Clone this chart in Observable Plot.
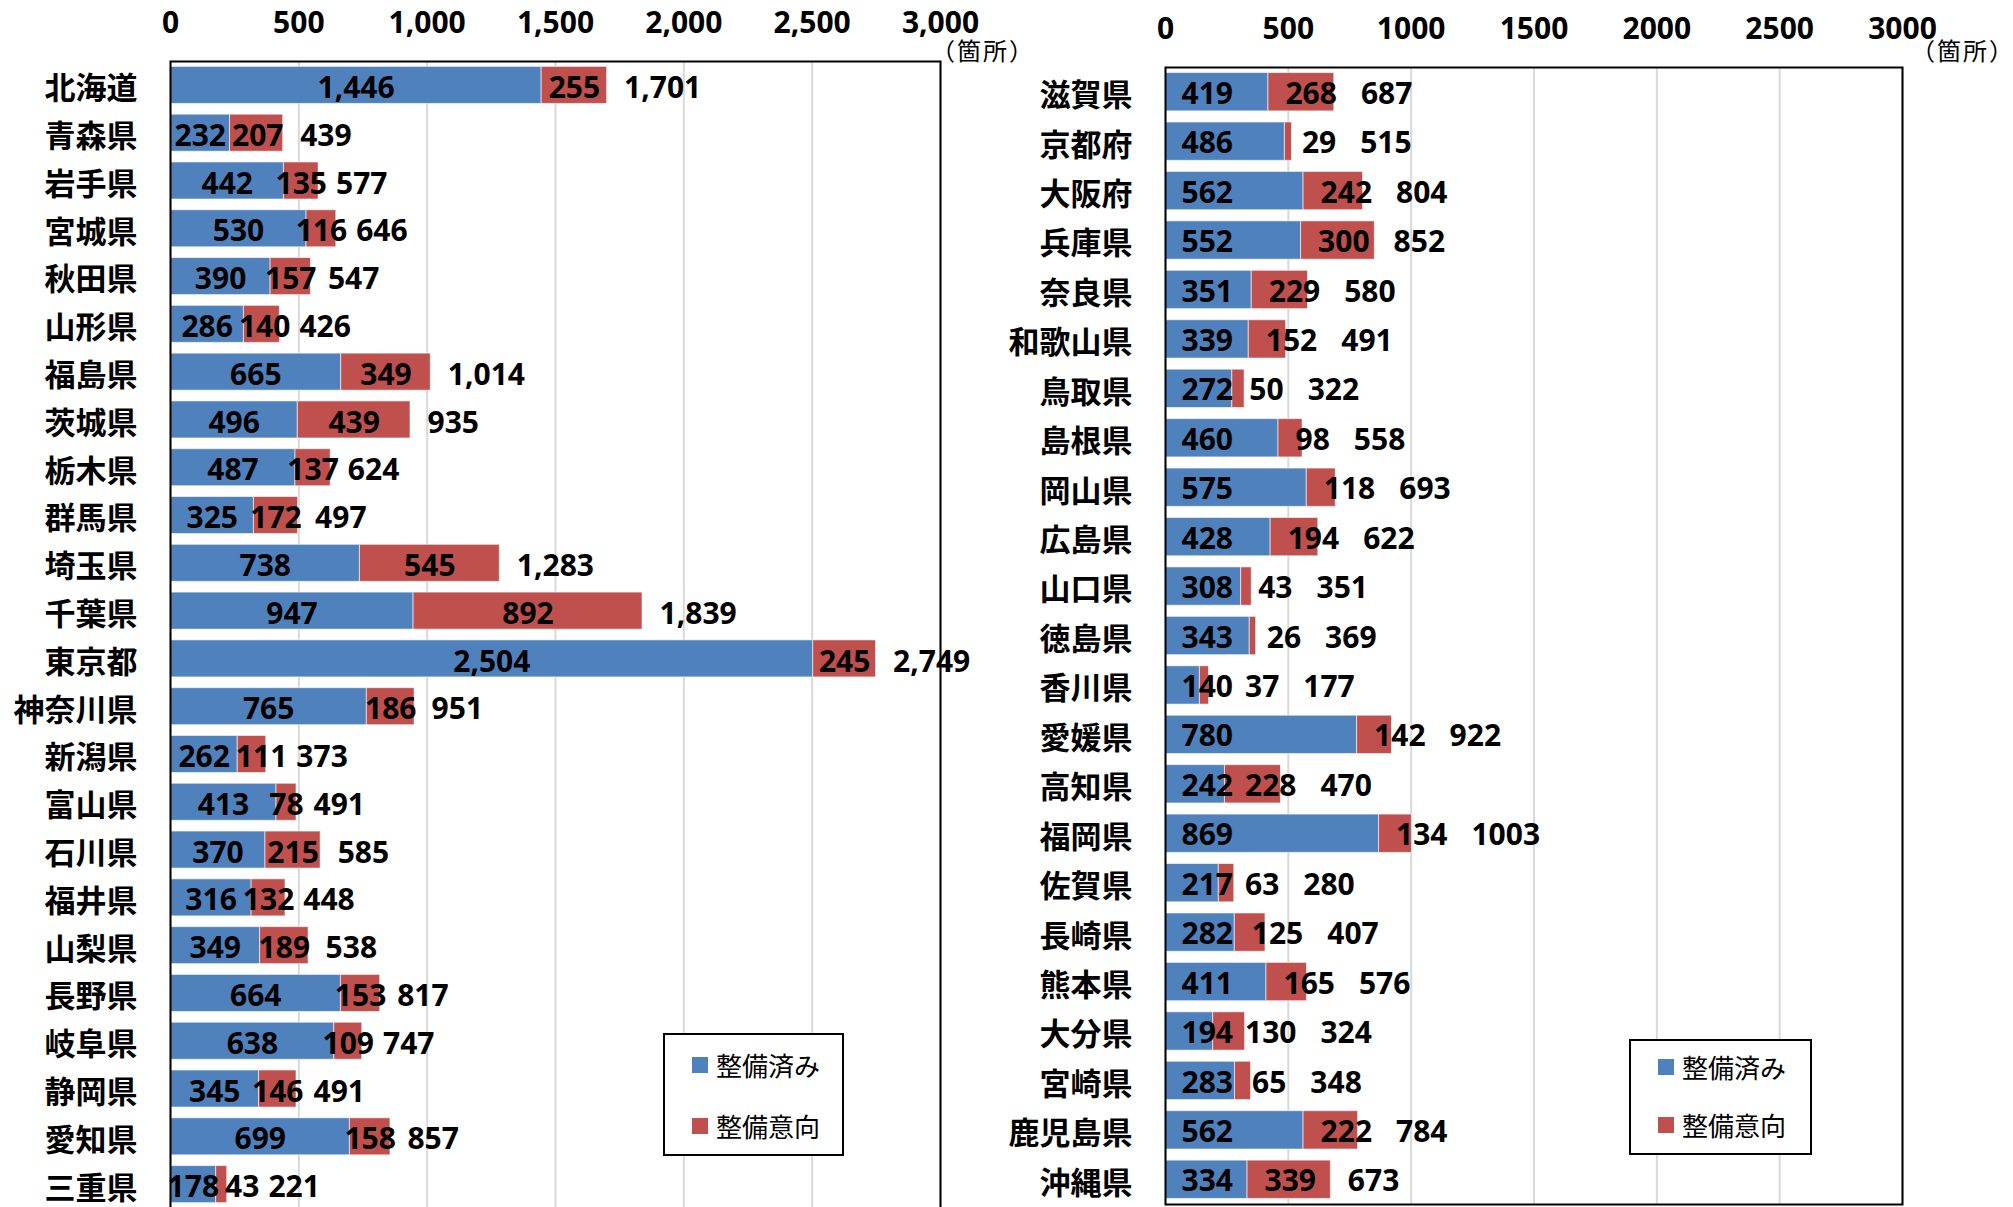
<!DOCTYPE html>
<html>
<head>
<meta charset="utf-8">
<script src="https://cdn.jsdelivr.net/npm/d3@7"></script>
<script src="https://cdn.jsdelivr.net/npm/@observablehq/plot@0.6"></script>
<style>
html, body { margin: 0; padding: 0; overflow: hidden; background: #fff; }
#wrap { position: relative; width: 2013px; height: 1207px; overflow: hidden; background: #fff; }
.panel { position: absolute; top: 0; }
.unit { position: absolute; font-family: "Noto Sans CJK JP", sans-serif; font-size: 24px; letter-spacing: 2px; line-height: 1; color: #000; white-space: nowrap; }
.legend { position: absolute; border: 2px solid #000; box-sizing: border-box; background: #fff; }
.item { position: absolute; display: flex; align-items: center; font-family: "Noto Sans CJK JP", sans-serif; font-size: 26px; line-height: 1; color: #000; white-space: nowrap; transform: translateY(-50%); }
.sw { width: 16px; height: 16px; margin-right: 8px; flex: none; }
</style>
</head>
<body>
<div id="wrap"></div>
<script>
// ---------- data ----------
const leftPrefectures = ["北海道","青森県","岩手県","宮城県","秋田県","山形県","福島県","茨城県","栃木県","群馬県","埼玉県","千葉県","東京都","神奈川県","新潟県","富山県","石川県","福井県","山梨県","長野県","岐阜県","静岡県","愛知県","三重県"];
const leftDeveloped = [1446,232,442,530,390,286,665,496,487,325,738,947,2504,765,262,413,370,316,349,664,638,345,699,178];
const leftPlanned   = [255,207,135,116,157,140,349,439,137,172,545,892,245,186,111,78,215,132,189,153,109,146,158,43];
const leftTotals    = [1701,439,577,646,547,426,1014,935,624,497,1283,1839,2749,951,373,491,585,448,538,817,747,491,857,221];

const rightPrefectures = ["滋賀県","京都府","大阪府","兵庫県","奈良県","和歌山県","鳥取県","島根県","岡山県","広島県","山口県","徳島県","香川県","愛媛県","高知県","福岡県","佐賀県","長崎県","熊本県","大分県","宮崎県","鹿児島県","沖縄県"];
const rightDeveloped = [419,486,562,552,351,339,272,460,575,428,308,343,140,780,242,869,217,282,411,194,283,562,334];
const rightPlanned   = [268,29,242,300,229,152,50,98,118,194,43,26,37,142,228,134,63,125,165,130,65,222,339];
const rightTotals    = [687,515,804,852,580,491,322,558,693,622,351,369,177,922,470,1003,280,407,576,324,348,784,673];

const seriesNames = ["整備済み", "整備意向"];
const xTicks = [0, 500, 1000, 1500, 2000, 2500, 3000];
const unitText = "（箇所）";

// ---------- style ----------
const seriesColors = ["#4F81BD", "#C0504D"];
const DIGIT_FONT = '"Noto Sans", "Noto Sans CJK JP", sans-serif';
const CJK_FONT = '"Noto Sans CJK JP", sans-serif';
const LABEL_SIZE = 30;

const ctx = document.createElement("canvas").getContext("2d");
ctx.font = `bold ${LABEL_SIZE}px "Noto Sans"`;
const textW = s => ctx.measureText(s).width;

function buildPanel(o) {
  const plotW = o.width - o.marginLeft - o.marginRight;
  const u = 3000 / plotW; // data units per pixel
  const rows = o.names.flatMap((n, i) => [
    {name: n, series: seriesNames[0], value: o.done[i]},
    {name: n, series: seriesNames[1], value: o.plan[i]}
  ]);
  const labels = o.names.map((n, i) => {
    const d = o.done[i], p = o.plan[i], t = o.total[i];
    const sd = o.fmt(d), sp = o.fmt(p), st = o.fmt(t);
    const wd = textW(sd), wp = textW(sp);
    const dEnd = d / u, tEnd = t / u;
    let xd, xp, xt;
    if (o.mode === "center") {
      xd = dEnd / 2 - wd / 2;
      xp = Math.max((d + p / 2) / u - wp / 2, xd + wd + 6);
      xt = Math.max(tEnd + 17, xp + wp + 9);
    } else {
      xd = 16;
      xp = Math.max(dEnd + 17, xd + wd + 12);
      xt = Math.max(tEnd + 17, xp + wp + 24);
    }
    return {name: n, sd, sp, st, xd: xd * u, xp: xp * u, xt: xt * u};
  });
  const tOpts = {y: "name", textAnchor: "start", fontSize: LABEL_SIZE, fontWeight: "bold",
                 fontFamily: DIGIT_FONT, fill: "#000", dy: o.labelDy};
  return Plot.plot({
    width: o.width, height: o.height,
    marginLeft: o.marginLeft, marginRight: o.marginRight,
    marginTop: o.marginTop, marginBottom: o.marginBottom,
    style: {background: "transparent", overflow: "visible", color: "#000"},
    x: {domain: [0, 3000], label: null},
    y: {domain: o.names, paddingInner: 0.225, paddingOuter: 0.1125, round: false, label: null},
    color: {domain: seriesNames, range: seriesColors},
    marks: [
      Plot.gridX(xTicks, {stroke: "#D9D9D9", strokeOpacity: 1, strokeWidth: 2}),
      Plot.barX(rows, {x: "value", y: "name", fill: "series", stroke: "#fff", strokeOpacity: 0.6, strokeWidth: 1}),
      Plot.frame({stroke: "#000", strokeWidth: 2}),
      Plot.axisX({anchor: "top", ticks: xTicks, tickFormat: o.fmt, tickSize: 0, tickPadding: 38, label: null,
                  lineAnchor: "middle", fontSize: 30, fontWeight: "bold", fontFamily: DIGIT_FONT, fill: "#000"}),
      Plot.axisY({anchor: "left", tickSize: 0, tickPadding: 33, label: null, fontSize: 31, fontWeight: "bold",
                  fontFamily: CJK_FONT, fill: "#000", dy: 4}),
      Plot.text(labels, {...tOpts, x: "xd", text: "sd"}),
      Plot.text(labels, {...tOpts, x: "xp", text: "sp"}),
      Plot.text(labels, {...tOpts, x: "xt", text: "st"})
    ]
  });
}

const wrap = document.getElementById("wrap");

function addPanel(chart, left) {
  chart.classList.add("panel");
  chart.style.left = left + "px";
  wrap.appendChild(chart);
}

function addUnit(left, top) {
  const d = document.createElement("div");
  d.className = "unit";
  d.style.left = left + "px";
  d.style.top = top + "px";
  d.textContent = unitText;
  wrap.appendChild(d);
}

function addLegend(chart, box, itemX, itemYs) {
  const sc = chart.scale("color");
  const lg = document.createElement("div");
  lg.className = "legend";
  Object.assign(lg.style, {left: box.x + "px", top: box.y + "px", width: box.w + "px", height: box.h + "px"});
  sc.domain.forEach((name, i) => {
    const it = document.createElement("div");
    it.className = "item";
    it.style.left = itemX + "px";
    it.style.top = itemYs[i] + "px";
    const sw = document.createElement("span");
    sw.className = "sw";
    sw.style.background = sc.range[i];
    it.appendChild(sw);
    it.appendChild(document.createTextNode(name));
    lg.appendChild(it);
  });
  wrap.appendChild(lg);
}

const leftChart = buildPanel({
  names: leftPrefectures, done: leftDeveloped, plan: leftPlanned, total: leftTotals,
  fmt: d3.format(","), mode: "center", labelDy: 3,
  width: 1000, height: 1208, marginLeft: 170, marginRight: 60, marginTop: 61, marginBottom: 0
});
addPanel(leftChart, 0);

const rightChart = buildPanel({
  names: rightPrefectures, done: rightDeveloped, plan: rightPlanned, total: rightTotals,
  fmt: d3.format("d"), mode: "start", labelDy: 2,
  width: 1013, height: 1205, marginLeft: 165, marginRight: 111, marginTop: 67, marginBottom: 1
});
addPanel(rightChart, 1000);

addUnit(931, 38);
addUnit(1911, 38);

addLegend(leftChart, {x: 663, y: 1033, w: 181, h: 123}, 27, [30, 91]);
addLegend(rightChart, {x: 1629, y: 1039, w: 183, h: 116}, 27, [26, 84]);
</script>
</body>
</html>
